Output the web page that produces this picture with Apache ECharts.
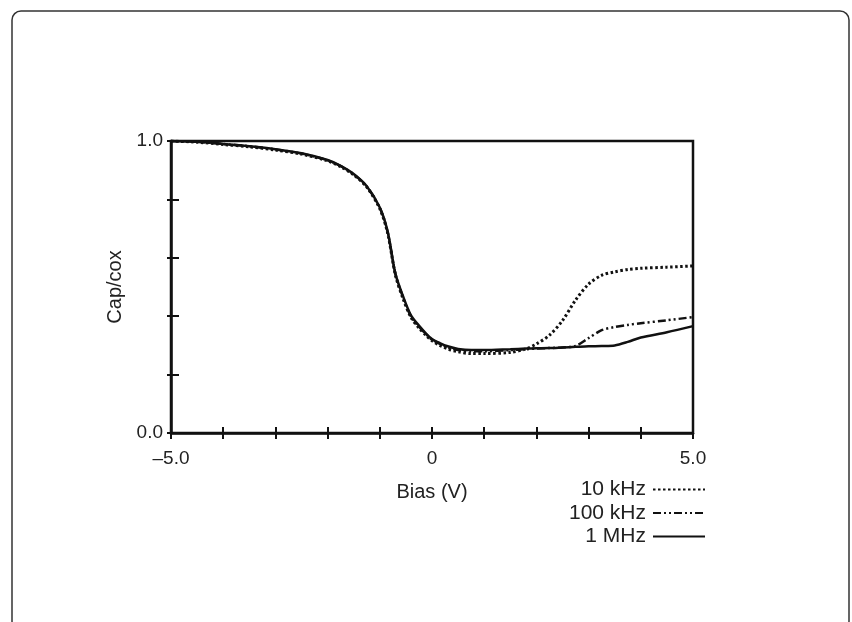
<!DOCTYPE html>
<html>
<head>
<meta charset="utf-8">
<script src="https://cdn.jsdelivr.net/npm/echarts@6/dist/echarts.min.js"></script>
<style>
  html, body { margin: 0; padding: 0; background: #fff; }
  #chart { width: 852px; height: 622px; }
</style>
</head>
<body>
<div id="chart"></div>
<script>
// bias sweep (V)
const biasV = [-5, -4.5, -4, -3.5, -3, -2.5, -2, -1.75, -1.5, -1.25, -1, -0.85, -0.7, -0.55, -0.4, -0.25, -0.1, 0, 0.15, 0.3, 0.5, 0.75, 1, 1.5, 1.8, 2, 2.25, 2.5, 2.75, 3, 3.25, 3.5, 3.75, 4, 4.5, 5];

// normalised capacitance
const cap10k = [1.0, 0.996, 0.988, 0.98, 0.969, 0.955, 0.932, 0.912, 0.884, 0.842, 0.768, 0.685, 0.54, 0.458, 0.395, 0.36, 0.332, 0.316, 0.3, 0.288, 0.278, 0.272, 0.272, 0.276, 0.288, 0.305, 0.335, 0.385, 0.455, 0.51, 0.54, 0.552, 0.56, 0.564, 0.568, 0.572];
const cap100k = [1.0, 0.997, 0.99, 0.982, 0.971, 0.957, 0.934, 0.914, 0.886, 0.844, 0.771, 0.689, 0.544, 0.462, 0.398, 0.364, 0.336, 0.32, 0.305, 0.293, 0.284, 0.28, 0.28, 0.284, 0.287, 0.289, 0.291, 0.293, 0.298, 0.325, 0.352, 0.363, 0.37, 0.376, 0.386, 0.397];
const cap1M = [1.0, 0.997, 0.99, 0.982, 0.972, 0.958, 0.935, 0.915, 0.887, 0.845, 0.772, 0.69, 0.545, 0.466, 0.402, 0.368, 0.338, 0.322, 0.308, 0.297, 0.288, 0.284, 0.284, 0.287, 0.289, 0.29, 0.291, 0.293, 0.295, 0.297, 0.298, 0.3, 0.312, 0.327, 0.345, 0.366];

const seriesNames = ['10 kHz', '100 kHz', '1 MHz'];
const xTickLabels = { '-5': '\u20135.0', '0': '0', '5': '5.0' };
const yTickLabels = { '0': '0.0', '1': '1.0' };

const FONT = "'Liberation Sans Narrow', 'Liberation Sans', Arial, sans-serif";

function pairs(ys) {
  return biasV.map((x, i) => [x, ys[i]]);
}

let chart = echarts.init(document.getElementById('chart'));

const lineTypes = [[2.5, 2.5], [8, 3, 2, 3, 2, 3], 'solid'];
const lineWidths = [3, 2.5, 2.5];
const capData = [cap10k, cap100k, cap1M];

const option = {
  animation: false,
  grid: {
    left: 171, right: 159, top: 141, bottom: 189,
    show: true, borderColor: '#111', borderWidth: 2.5
  },
  legend: seriesNames.map((name, i) => ({
    data: [name],
    right: 146,
    top: 479 + i * 23.5,
    align: 'right',
    itemWidth: 52,
    itemHeight: 14,
    itemGap: 0,
    padding: 0,
    selectedMode: false,
    itemStyle: { opacity: 0 },
    textStyle: { fontFamily: FONT, fontSize: 21, color: '#222', padding: [0, 2, 0, 0] }
  })),
  xAxis: [{
    type: 'value', min: -5, max: 5, interval: 1,
    axisLine: { onZero: false, lineStyle: { color: '#111', width: 2.5 } },
    axisTick: { inside: false, length: 6, lineStyle: { color: '#111', width: 2 } },
    splitLine: { show: false },
    axisLabel: {
      margin: 16, fontFamily: FONT, fontSize: 19, color: '#222',
      formatter: v => xTickLabels[String(v)] || ''
    },
    name: 'Bias (V)', nameLocation: 'middle', nameGap: 49,
    nameTextStyle: { fontFamily: FONT, fontSize: 20, color: '#222' }
  }, {
    type: 'value', min: -5, max: 5, interval: 1, position: 'bottom',
    axisLine: { show: false, onZero: false },
    axisTick: { inside: true, length: 6, lineStyle: { color: '#111', width: 2 } },
    axisLabel: { show: false }, splitLine: { show: false }
  }],
  yAxis: [{
    type: 'value', min: 0, max: 1, interval: 0.2,
    axisLine: { show: true, onZero: false, lineStyle: { color: '#111', width: 2.5 } },
    axisTick: { inside: false, length: 4, lineStyle: { color: '#111', width: 2 } },
    splitLine: { show: false },
    axisLabel: {
      margin: 8, fontFamily: FONT, fontSize: 19, color: '#222',
      formatter: v => yTickLabels[String(v)] || ''
    },
    name: 'Cap/cox', nameLocation: 'middle', nameGap: 40,
    nameTextStyle: { fontFamily: FONT, fontSize: 20, color: '#222' }
  }, {
    type: 'value', min: 0, max: 1, interval: 0.2, position: 'left',
    axisLine: { show: false, onZero: false },
    axisTick: { inside: true, length: 8, lineStyle: { color: '#111', width: 2 } },
    axisLabel: { show: false }, splitLine: { show: false }
  }],
  graphic: [{
    type: 'rect', silent: true,
    shape: { x: 12, y: 11, width: 837, height: 619, r: 9 },
    style: { fill: 'none', stroke: '#333', lineWidth: 1.5 }
  }],
  series: seriesNames.map((name, i) => ({
    name: name,
    type: 'line',
    data: pairs(capData[i]),
    smooth: 0.3,
    symbol: 'none',
    color: '#111',
    lineStyle: { color: '#111', width: lineWidths[i], type: lineTypes[i] },
    z: 3 - i
  }))
};

chart.setOption(option);
window.addEventListener('resize', () => {
  chart.resize();
});
</script>
</body>
</html>
